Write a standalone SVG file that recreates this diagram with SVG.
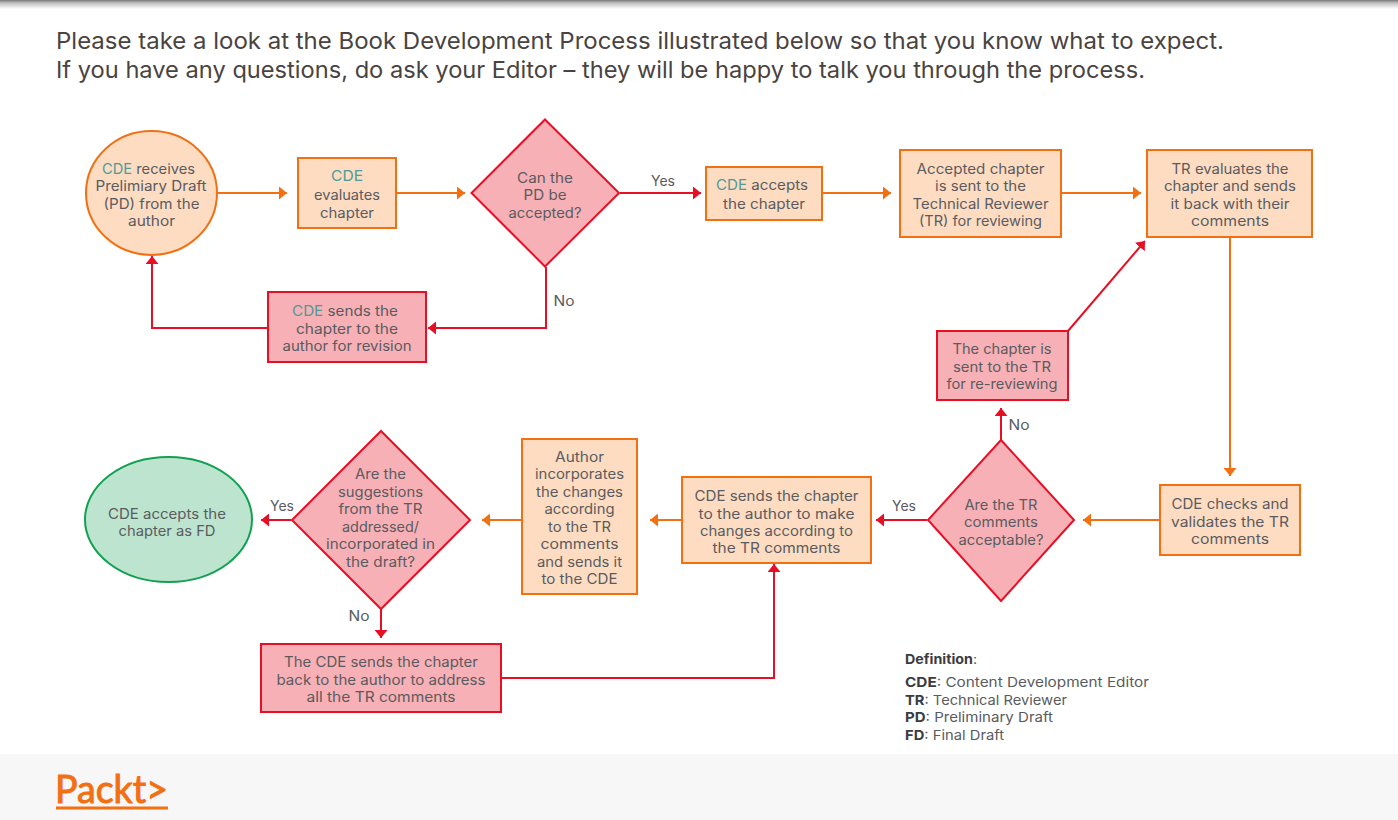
<svg xmlns="http://www.w3.org/2000/svg" width="1398" height="820" viewBox="0 0 1398 820">
<style>
text{font-family:"Inter","Open Sans","Liberation Sans",sans-serif;fill:#5a5b60;font-size:14px;text-anchor:middle}
.h{font-size:23px;fill:#4a4340;text-anchor:start}
.c{fill:#4f9a98}
.l{font-size:13.5px;text-anchor:start}
.b{font-weight:700;fill:#3c3c3e}
.o{fill:#fddcc2;stroke:#f26f12;stroke-width:2}
.r{fill:#f7b0b5;stroke:#e80f25;stroke-width:2}
.g{fill:#bde4cf;stroke:#12a150;stroke-width:2}
.co,.cr{fill:none;stroke-width:2}
.co{stroke:#f26f12;marker-end:url(#ao)}
.cr{stroke:#e80f25;marker-end:url(#ar)}
</style>
<defs>
<marker id="ao" markerUnits="userSpaceOnUse" markerWidth="9" markerHeight="13" refX="8" refY="6.5" orient="auto"><path d="M0 0L8 6.5L0 13z" fill="#f26f12"/></marker>
<marker id="ar" markerUnits="userSpaceOnUse" markerWidth="9" markerHeight="13" refX="8" refY="6.5" orient="auto"><path d="M0 0L8 6.5L0 13z" fill="#e80f25"/></marker>
<linearGradient id="sh" x1="0" y1="0" x2="0" y2="1"><stop offset="0" stop-color="#77777a"/><stop offset=".3" stop-color="#bbbbbb"/><stop offset="1" stop-color="#ffffff"/></linearGradient>
</defs>
<rect width="1398" height="820" fill="#fff"/>
<rect width="1398" height="9" fill="url(#sh)"/>
<rect y="754" width="1398" height="66" fill="#f7f7f7"/>
<text class="h" x="56" y="49" textLength="1168" lengthAdjust="spacingAndGlyphs">Please take a look at the Book Development Process illustrated below so that you know what to expect.</text>
<text class="h" x="56" y="78" textLength="1089" lengthAdjust="spacingAndGlyphs">If you have any questions, do ask your Editor – they will be happy to talk you through the process.</text>

<g id="connectors">
<path class="co" d="M218 193H287"/>
<path class="co" d="M397 193H465"/>
<path class="cr" d="M620 193H701"/>
<path class="co" d="M823 193H891"/>
<path class="co" d="M1062 193H1141"/>
<path class="cr" d="M546 267V328H428"/>
<path class="cr" d="M267 328H152V256"/>
<path class="co" d="M1230 238V476"/>
<path class="co" d="M1159 520H1083"/>
<path class="cr" d="M927 520H876"/>
<path class="cr" d="M1001 440V408"/>
<path class="cr" d="M1068 331L1145 241"/>
<path class="co" d="M681 520H650"/>
<path class="co" d="M521 520H482"/>
<path class="cr" d="M291 520H261"/>
<path class="cr" d="M381 609V638"/>
<path class="cr" d="M502 678H774V564"/>
</g>

<g id="n1"><ellipse class="o" cx="151.500" cy="193" rx="65.500" ry="62"/>
<text x="148.500" y="174" textLength="93" lengthAdjust="spacingAndGlyphs"><tspan class="c">CDE</tspan> receives</text>
<text x="151" y="191" textLength="111" lengthAdjust="spacingAndGlyphs">Prelimiary Draft</text>
<text x="151.500" y="209" textLength="96" lengthAdjust="spacingAndGlyphs">(PD) from the</text>
<text x="151.500" y="226" textLength="47" lengthAdjust="spacingAndGlyphs">author</text></g>

<g id="n2"><rect class="o" x="298" y="158" width="98" height="70"/>
<text class="c" x="347" y="181" textLength="32" lengthAdjust="spacingAndGlyphs">CDE</text>
<text x="347" y="200" textLength="66" lengthAdjust="spacingAndGlyphs">evaluates</text>
<text x="347" y="218" textLength="54" lengthAdjust="spacingAndGlyphs">chapter</text></g>

<g id="n3"><path class="r" d="M545 119.500L619 193L545 266.500L471.500 193z"/>
<text x="545" y="183" textLength="56" lengthAdjust="spacingAndGlyphs">Can the</text>
<text x="545" y="200" textLength="43" lengthAdjust="spacingAndGlyphs">PD be</text>
<text x="545" y="218" textLength="73" lengthAdjust="spacingAndGlyphs">accepted?</text></g>

<g id="n4"><rect class="o" x="706" y="167" width="116" height="53"/>
<text x="762" y="190" textLength="92" lengthAdjust="spacingAndGlyphs"><tspan class="c">CDE</tspan> accepts</text>
<text x="764" y="209" textLength="82" lengthAdjust="spacingAndGlyphs">the chapter</text></g>

<g id="n5"><rect class="o" x="900" y="150" width="161" height="87"/>
<text x="980.500" y="174" textLength="128" lengthAdjust="spacingAndGlyphs">Accepted chapter</text>
<text x="980.500" y="191" textLength="91" lengthAdjust="spacingAndGlyphs">is sent to the</text>
<text x="980.500" y="209" textLength="136" lengthAdjust="spacingAndGlyphs">Technical Reviewer</text>
<text x="980.500" y="226" textLength="123" lengthAdjust="spacingAndGlyphs">(TR) for reviewing</text></g>

<g id="n6"><rect class="o" x="1147" y="150" width="165" height="87"/>
<text x="1230" y="174" textLength="117" lengthAdjust="spacingAndGlyphs">TR evaluates the</text>
<text x="1230" y="191" textLength="132" lengthAdjust="spacingAndGlyphs">chapter and sends</text>
<text x="1230" y="209" textLength="119" lengthAdjust="spacingAndGlyphs">it back with their</text>
<text x="1230" y="226" textLength="78" lengthAdjust="spacingAndGlyphs">comments</text></g>

<g id="n7"><rect class="o" x="1160" y="485" width="140" height="70"/>
<text x="1230" y="509" textLength="117" lengthAdjust="spacingAndGlyphs">CDE checks and</text>
<text x="1230" y="527" textLength="118" lengthAdjust="spacingAndGlyphs">validates the TR</text>
<text x="1230" y="544" textLength="78" lengthAdjust="spacingAndGlyphs">comments</text></g>

<g id="n8"><path class="r" d="M1001 440L1074 520L1001 601L928 520z"/>
<text x="1001" y="510" textLength="73" lengthAdjust="spacingAndGlyphs">Are the TR</text>
<text x="1001" y="527" textLength="74" lengthAdjust="spacingAndGlyphs">comments</text>
<text x="1001" y="545" textLength="85" lengthAdjust="spacingAndGlyphs">acceptable?</text></g>

<g id="n9"><rect class="r" x="937" y="331" width="131" height="69"/>
<text x="1002" y="354" textLength="99" lengthAdjust="spacingAndGlyphs">The chapter is</text>
<text x="1002" y="372" textLength="98" lengthAdjust="spacingAndGlyphs">sent to the TR</text>
<text x="1002" y="389" textLength="111" lengthAdjust="spacingAndGlyphs">for re-reviewing</text></g>

<g id="n10"><rect class="o" x="682" y="477" width="189" height="86"/>
<text x="776.500" y="501" textLength="164" lengthAdjust="spacingAndGlyphs">CDE sends the chapter</text>
<text x="776.500" y="519" textLength="156" lengthAdjust="spacingAndGlyphs">to the author to make</text>
<text x="776.500" y="536" textLength="153" lengthAdjust="spacingAndGlyphs">changes according to</text>
<text x="776.500" y="553" textLength="128" lengthAdjust="spacingAndGlyphs">the TR comments</text></g>

<g id="n11"><rect class="o" x="522" y="439" width="115" height="155"/>
<text x="579.500" y="462" textLength="49" lengthAdjust="spacingAndGlyphs">Author</text>
<text x="579.500" y="479" textLength="89" lengthAdjust="spacingAndGlyphs">incorporates</text>
<text x="579.500" y="497" textLength="87" lengthAdjust="spacingAndGlyphs">the changes</text>
<text x="579.500" y="514" textLength="70" lengthAdjust="spacingAndGlyphs">according</text>
<text x="579.500" y="532" textLength="63" lengthAdjust="spacingAndGlyphs">to the TR</text>
<text x="579.500" y="549" textLength="78" lengthAdjust="spacingAndGlyphs">comments</text>
<text x="579.500" y="567" textLength="85" lengthAdjust="spacingAndGlyphs">and sends it</text>
<text x="579.500" y="584" textLength="76" lengthAdjust="spacingAndGlyphs">to the CDE</text></g>

<g id="n12"><path class="r" d="M381 431L470 520L381 609L292 520z"/>
<text x="380.500" y="479" textLength="51" lengthAdjust="spacingAndGlyphs">Are the</text>
<text x="380.500" y="497" textLength="85" lengthAdjust="spacingAndGlyphs">suggestions</text>
<text x="380.500" y="514" textLength="84" lengthAdjust="spacingAndGlyphs">from the TR</text>
<text x="380.500" y="532" textLength="77" lengthAdjust="spacingAndGlyphs">addressed/</text>
<text x="380.500" y="549" textLength="109" lengthAdjust="spacingAndGlyphs">incorporated in</text>
<text x="380.500" y="567" textLength="69" lengthAdjust="spacingAndGlyphs">the draft?</text></g>

<g id="n13"><ellipse class="g" cx="168.500" cy="519.500" rx="83.500" ry="62.500"/>
<text x="167" y="519" textLength="118" lengthAdjust="spacingAndGlyphs">CDE accepts the</text>
<text x="167" y="536" textLength="97" lengthAdjust="spacingAndGlyphs">chapter as FD</text></g>

<g id="n14"><rect class="r" x="261" y="644" width="240" height="68"/>
<text x="381" y="667" textLength="194" lengthAdjust="spacingAndGlyphs">The CDE sends the chapter</text>
<text x="381" y="685" textLength="209" lengthAdjust="spacingAndGlyphs">back to the author to address</text>
<text x="381" y="702" textLength="149" lengthAdjust="spacingAndGlyphs">all the TR comments</text></g>

<g id="n15"><rect class="r" x="268" y="292" width="158" height="70"/>
<text x="345" y="316" textLength="106" lengthAdjust="spacingAndGlyphs"><tspan class="c">CDE</tspan> sends the</text>
<text x="347" y="334" textLength="102" lengthAdjust="spacingAndGlyphs">chapter to the</text>
<text x="347" y="351" textLength="129" lengthAdjust="spacingAndGlyphs">author for revision</text></g>

<g id="labels">
<text x="663" y="186" textLength="24" lengthAdjust="spacingAndGlyphs">Yes</text>
<text x="564" y="306" textLength="21" lengthAdjust="spacingAndGlyphs">No</text>
<text x="1019" y="430" textLength="21" lengthAdjust="spacingAndGlyphs">No</text>
<text x="904" y="511" textLength="24" lengthAdjust="spacingAndGlyphs">Yes</text>
<text x="282" y="511" textLength="24" lengthAdjust="spacingAndGlyphs">Yes</text>
<text x="359" y="621" textLength="21" lengthAdjust="spacingAndGlyphs">No</text>
</g>

<g id="definition">
<text class="l" x="905" y="664" textLength="72" lengthAdjust="spacingAndGlyphs"><tspan class="b">Definition</tspan>:</text>
<text class="l" x="905" y="687" textLength="244" lengthAdjust="spacingAndGlyphs"><tspan class="b">CDE</tspan>: Content Development Editor</text>
<text class="l" x="905" y="705" textLength="162" lengthAdjust="spacingAndGlyphs"><tspan class="b">TR</tspan>: Technical Reviewer</text>
<text class="l" x="905" y="722" textLength="148" lengthAdjust="spacingAndGlyphs"><tspan class="b">PD</tspan>: Preliminary Draft</text>
<text class="l" x="905" y="740" textLength="99" lengthAdjust="spacingAndGlyphs"><tspan class="b">FD</tspan>: Final Draft</text>
</g>

<g id="logo">
<text x="55" y="803" style="font-family:Lato,'Liberation Sans',sans-serif;font-size:39px;fill:#f26f12;stroke:#f26f12;stroke-width:1;text-anchor:start" textLength="113" lengthAdjust="spacingAndGlyphs">Packt&gt;</text>
<rect x="56" y="806.500" width="112" height="3" fill="#f26f12"/>
</g>
</svg>
